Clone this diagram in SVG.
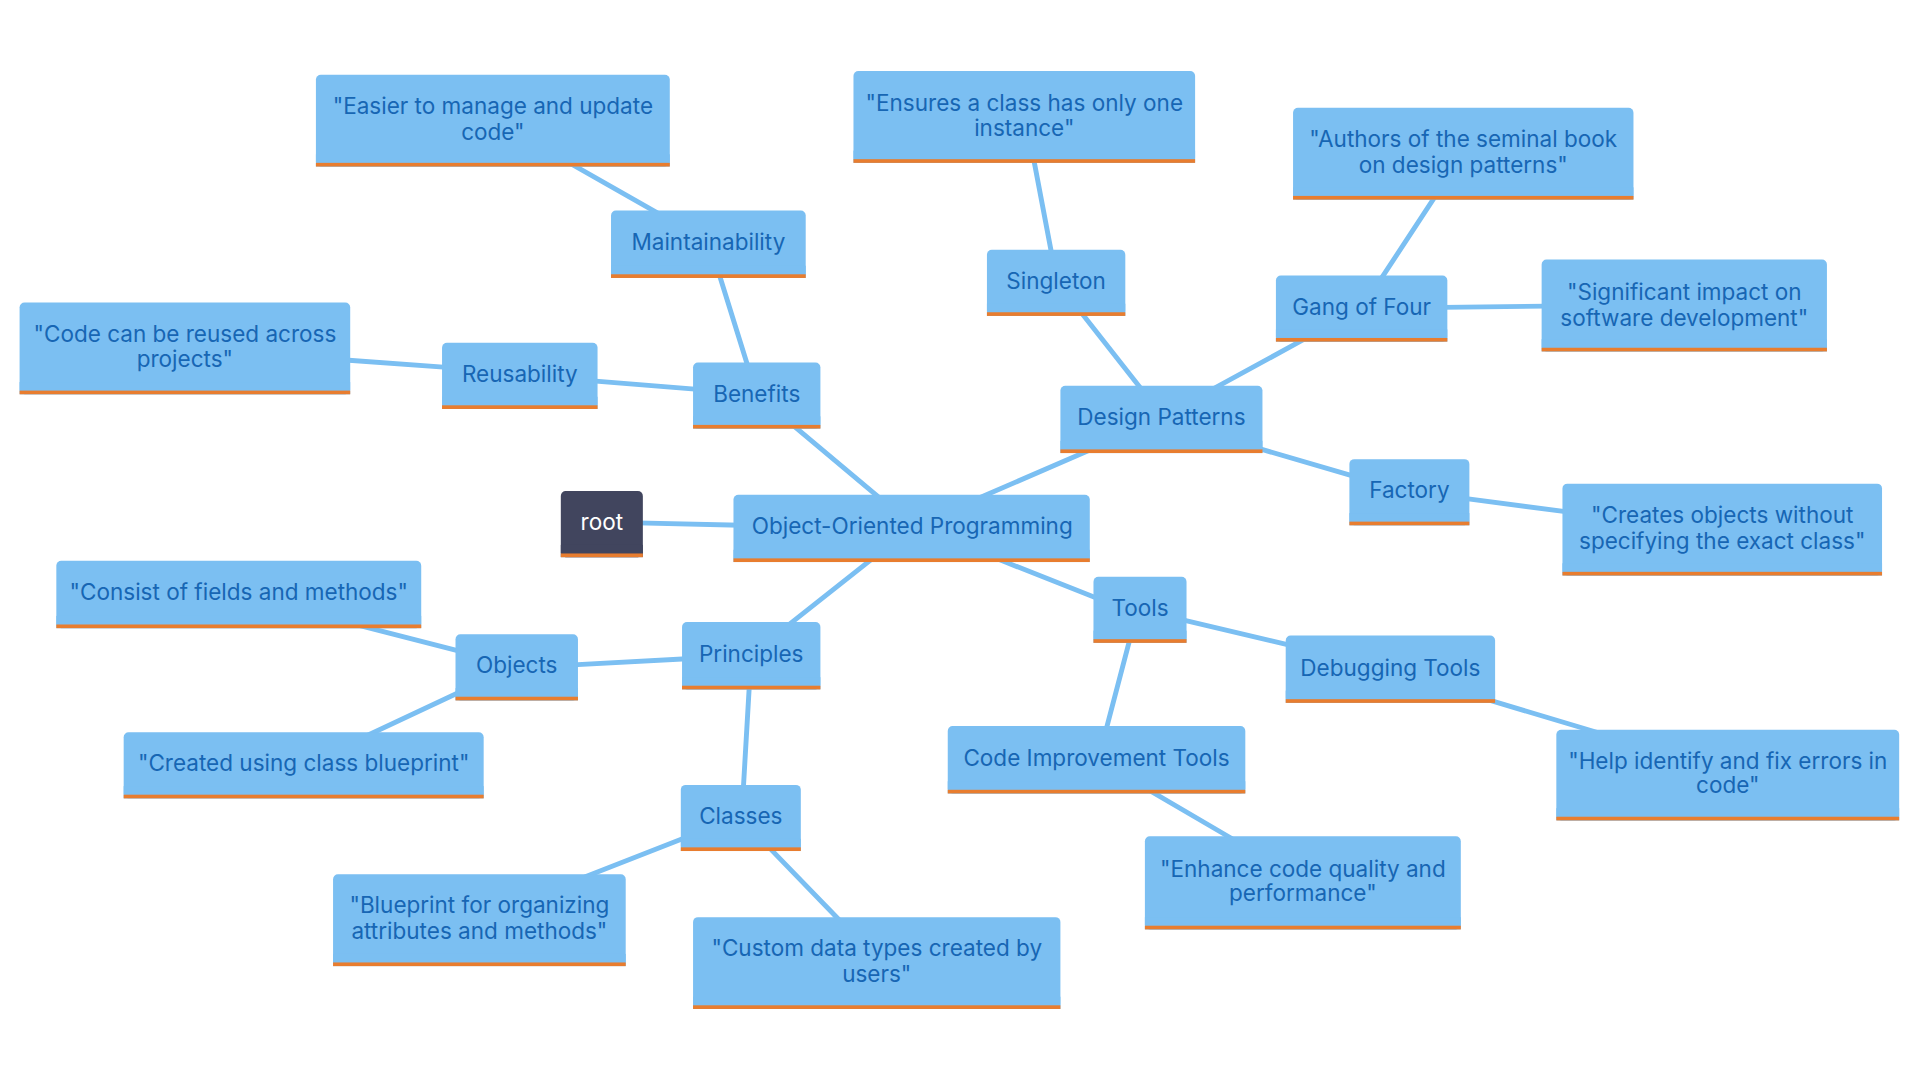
<svg xmlns="http://www.w3.org/2000/svg" width="1920" height="1080" viewBox="0 0 1920 1080">
<style>
.box{fill:#7bbff2}
.bar{fill:#e87d2f}
.rootbox{fill:#41455e}
.t{font-family:Inter,"Open Sans","Liberation Sans",sans-serif;font-size:18.4px;fill:#1766b4;text-anchor:middle;dominant-baseline:central}
.rt{fill:#ffffff}
.edges line{stroke:#7bbff2;stroke-width:4;stroke-linecap:round}
</style>
<rect width="1920" height="1080" fill="#ffffff"/>
<g transform="scale(1.22449)">
<g id="connectors" class="edges">
<line x1="520" y1="427" x2="605" y2="429"/>
<line x1="720" y1="408" x2="646" y2="346"/>
<line x1="611" y1="300" x2="587" y2="223"/>
<line x1="539" y1="175" x2="465" y2="133"/>
<line x1="570" y1="318" x2="484" y2="311"/>
<line x1="365" y1="300" x2="282" y2="294"/>
<line x1="714" y1="455" x2="642" y2="512"/>
<line x1="561" y1="538" x2="468" y2="543"/>
<line x1="376" y1="532" x2="294" y2="511"/>
<line x1="376" y1="565" x2="299" y2="601"/>
<line x1="612" y1="559" x2="607" y2="645"/>
<line x1="560" y1="684" x2="478" y2="716"/>
<line x1="627" y1="691" x2="687" y2="753"/>
<line x1="799" y1="407" x2="891" y2="367"/>
<line x1="933" y1="319" x2="882" y2="254"/>
<line x1="859" y1="208" x2="844" y2="129"/>
<line x1="990" y1="318" x2="1067" y2="276"/>
<line x1="1127" y1="229" x2="1173" y2="159"/>
<line x1="1178" y1="251" x2="1263" y2="250"/>
<line x1="1027" y1="366" x2="1106" y2="389"/>
<line x1="1196" y1="407" x2="1280" y2="418"/>
<line x1="816" y1="457" x2="897" y2="489"/>
<line x1="965" y1="506" x2="1054" y2="527"/>
<line x1="1217" y1="572" x2="1304" y2="598"/>
<line x1="923" y1="521" x2="903" y2="597"/>
<line x1="938" y1="645" x2="1008" y2="686"/>
</g>

<g id="n-root"><rect class="rootbox" x="458" y="401" width="67" height="54" rx="4"/><rect class="rootbox" x="458" y="445" width="67" height="10"/><rect class="bar" x="458" y="452" width="67" height="3"/><text class="t rt" x="491.5" y="426">root</text></g>

<g id="n-oop"><rect class="box" x="599" y="404" width="291" height="55" rx="4"/><rect class="box" x="599" y="449" width="291" height="10"/><rect class="bar" x="599" y="456" width="291" height="3"/><text class="t" x="745" y="429">Object-Oriented Programming</text></g>

<g id="n-benefits"><rect class="box" x="566" y="296" width="104" height="54" rx="4"/><rect class="box" x="566" y="340" width="104" height="10"/><rect class="bar" x="566" y="347" width="104" height="3"/><text class="t" x="618" y="321">Benefits</text></g>

<g id="n-maint"><rect class="box" x="499" y="172" width="159" height="55" rx="4"/><rect class="box" x="499" y="217" width="159" height="10"/><rect class="bar" x="499" y="224" width="159" height="3"/><text class="t" x="578.5" y="197">Maintainability</text></g>

<g id="n-maint-d"><rect class="box" x="258" y="61" width="289" height="75" rx="4"/><rect class="box" x="258" y="126" width="289" height="10"/><rect class="bar" x="258" y="133" width="289" height="3"/><text class="t" x="402.5" y="86">"Easier to manage and update</text><text class="t" x="402.5" y="107">code"</text></g>

<g id="n-reuse"><rect class="box" x="361" y="280" width="127" height="54" rx="4"/><rect class="box" x="361" y="324" width="127" height="10"/><rect class="bar" x="361" y="331" width="127" height="3"/><text class="t" x="424.5" y="305">Reusability</text></g>

<g id="n-reuse-d"><rect class="box" x="16" y="247" width="270" height="75" rx="4"/><rect class="box" x="16" y="312" width="270" height="10"/><rect class="bar" x="16" y="319" width="270" height="3"/><text class="t" x="151" y="272">"Code can be reused across</text><text class="t" x="151" y="293">projects"</text></g>

<g id="n-principles"><rect class="box" x="557" y="508" width="113" height="55" rx="4"/><rect class="box" x="557" y="553" width="113" height="10"/><rect class="bar" x="557" y="560" width="113" height="3"/><text class="t" x="613.5" y="534">Principles</text></g>

<g id="n-objects"><rect class="box" x="372" y="518" width="100" height="54" rx="4"/><rect class="box" x="372" y="562" width="100" height="10"/><rect class="bar" x="372" y="569" width="100" height="3"/><text class="t" x="422" y="543">Objects</text></g>

<g id="n-objects-d1"><rect class="box" x="46" y="458" width="298" height="55" rx="4"/><rect class="box" x="46" y="503" width="298" height="10"/><rect class="bar" x="46" y="510" width="298" height="3"/><text class="t" x="195" y="483">"Consist of fields and methods"</text></g>

<g id="n-objects-d2"><rect class="box" x="101" y="598" width="294" height="54" rx="4"/><rect class="box" x="101" y="642" width="294" height="10"/><rect class="bar" x="101" y="649" width="294" height="3"/><text class="t" x="248" y="623">"Created using class blueprint"</text></g>

<g id="n-classes"><rect class="box" x="556" y="641" width="98" height="54" rx="4"/><rect class="box" x="556" y="685" width="98" height="10"/><rect class="bar" x="556" y="692" width="98" height="3"/><text class="t" x="605" y="666">Classes</text></g>

<g id="n-classes-d1"><rect class="box" x="272" y="714" width="239" height="75" rx="4"/><rect class="box" x="272" y="779" width="239" height="10"/><rect class="bar" x="272" y="786" width="239" height="3"/><text class="t" x="391.5" y="739">"Blueprint for organizing</text><text class="t" x="391.5" y="760">attributes and methods"</text></g>

<g id="n-classes-d2"><rect class="box" x="566" y="749" width="300" height="75" rx="4"/><rect class="box" x="566" y="814" width="300" height="10"/><rect class="bar" x="566" y="821" width="300" height="3"/><text class="t" x="716" y="774">"Custom data types created by</text><text class="t" x="716" y="795">users"</text></g>

<g id="n-dp"><rect class="box" x="866" y="315" width="165" height="55" rx="4"/><rect class="box" x="866" y="360" width="165" height="10"/><rect class="bar" x="866" y="367" width="165" height="3"/><text class="t" x="948.5" y="340">Design Patterns</text></g>

<g id="n-singleton"><rect class="box" x="806" y="204" width="113" height="54" rx="4"/><rect class="box" x="806" y="248" width="113" height="10"/><rect class="bar" x="806" y="255" width="113" height="3"/><text class="t" x="862.5" y="229">Singleton</text></g>

<g id="n-singleton-d"><rect class="box" x="697" y="58" width="279" height="75" rx="4"/><rect class="box" x="697" y="123" width="279" height="10"/><rect class="bar" x="697" y="130" width="279" height="3"/><text class="t" x="836.5" y="84">"Ensures a class has only one</text><text class="t" x="836.5" y="104">instance"</text></g>

<g id="n-gof"><rect class="box" x="1042" y="225" width="140" height="54" rx="4"/><rect class="box" x="1042" y="269" width="140" height="10"/><rect class="bar" x="1042" y="276" width="140" height="3"/><text class="t" x="1112" y="250">Gang of Four</text></g>

<g id="n-gof-d1"><rect class="box" x="1056" y="88" width="278" height="75" rx="4"/><rect class="box" x="1056" y="153" width="278" height="10"/><rect class="bar" x="1056" y="160" width="278" height="3"/><text class="t" x="1195" y="113">"Authors of the seminal book</text><text class="t" x="1195" y="134">on design patterns"</text></g>

<g id="n-gof-d2"><rect class="box" x="1259" y="212" width="233" height="75" rx="4"/><rect class="box" x="1259" y="277" width="233" height="10"/><rect class="bar" x="1259" y="284" width="233" height="3"/><text class="t" x="1375.5" y="238">"Significant impact on</text><text class="t" x="1375.5" y="259">software development"</text></g>

<g id="n-factory"><rect class="box" x="1102" y="375" width="98" height="54" rx="4"/><rect class="box" x="1102" y="419" width="98" height="10"/><rect class="bar" x="1102" y="426" width="98" height="3"/><text class="t" x="1151" y="400">Factory</text></g>

<g id="n-factory-d"><rect class="box" x="1276" y="395" width="261" height="75" rx="4"/><rect class="box" x="1276" y="460" width="261" height="10"/><rect class="bar" x="1276" y="467" width="261" height="3"/><text class="t" x="1406.5" y="420">"Creates objects without</text><text class="t" x="1406.5" y="441">specifying the exact class"</text></g>

<g id="n-tools"><rect class="box" x="893" y="471" width="76" height="54" rx="4"/><rect class="box" x="893" y="515" width="76" height="10"/><rect class="bar" x="893" y="522" width="76" height="3"/><text class="t" x="931" y="496">Tools</text></g>

<g id="n-debug"><rect class="box" x="1050" y="519" width="171" height="55" rx="4"/><rect class="box" x="1050" y="564" width="171" height="10"/><rect class="bar" x="1050" y="571" width="171" height="3"/><text class="t" x="1135.5" y="545">Debugging Tools</text></g>

<g id="n-debug-d"><rect class="box" x="1271" y="596" width="280" height="74" rx="4"/><rect class="box" x="1271" y="660" width="280" height="10"/><rect class="bar" x="1271" y="667" width="280" height="3"/><text class="t" x="1411" y="621">"Help identify and fix errors in</text><text class="t" x="1411" y="641">code"</text></g>

<g id="n-cit"><rect class="box" x="774" y="593" width="243" height="55" rx="4"/><rect class="box" x="774" y="638" width="243" height="10"/><rect class="bar" x="774" y="645" width="243" height="3"/><text class="t" x="895.5" y="619">Code Improvement Tools</text></g>

<g id="n-cit-d"><rect class="box" x="935" y="683" width="258" height="76" rx="4"/><rect class="box" x="935" y="749" width="258" height="10"/><rect class="bar" x="935" y="756" width="258" height="3"/><text class="t" x="1064" y="709">"Enhance code quality and</text><text class="t" x="1064" y="729">performance"</text></g>
</g>
</svg>
